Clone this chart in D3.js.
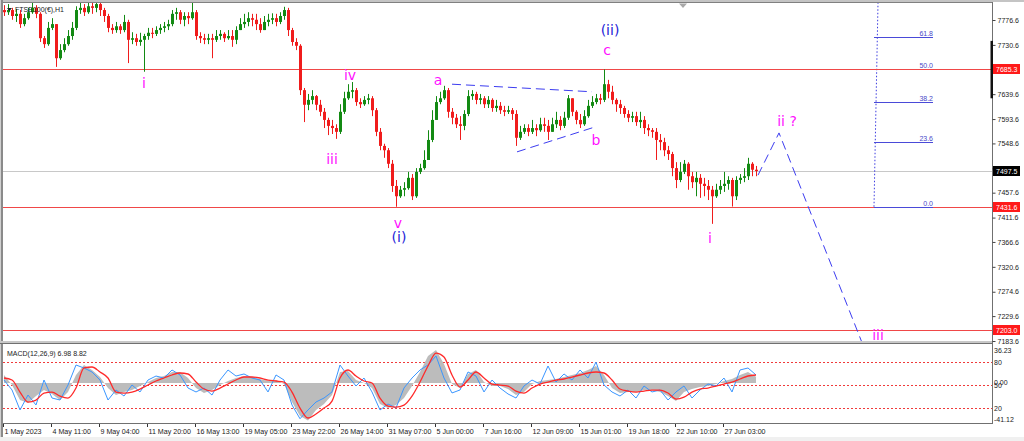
<!DOCTYPE html>
<html><head><meta charset="utf-8">
<script src="https://cdn.jsdelivr.net/npm/d3@7/dist/d3.min.js"></script>
<style>html,body{margin:0;padding:0;background:#fff;overflow:hidden}</style>
</head><body>
<svg id="c" width="1024" height="441"></svg>
<script>
// ---------- DATA ----------
const symbolTitle = "FTSE100(€),H1";
const firstOpen = 7795;
const closes = [
7791,7795,7784,7788,7769,7780,7791,7799,7788,7743,
7732,7762,7769,7706,7721,7732,7747,7762,7795,7799,
7791,7802,7799,7806,7795,7784,7762,7758,7765,7758,
7773,7740,7743,7736,7740,7747,7753,7751,7758,7762,
7765,7769,7788,7791,7777,7784,7780,7791,7747,7743,
7740,7743,7740,7747,7751,7743,7747,7740,7758,7769,
7773,7780,7777,7769,7758,7773,7777,7780,7773,7784,
7795,7758,7736,7729,7647,7620,7629,7636,7620,7607,
7592,7581,7577,7570,7607,7632,7644,7647,7625,7621,
7629,7632,7610,7570,7544,7536,7511,7470,7451,7463,
7466,7485,7451,7496,7503,7518,7555,7592,7625,7632,
7647,7607,7596,7584,7581,7603,7636,7640,7629,7632,
7621,7629,7614,7618,7610,7607,7610,7603,7559,7570,
7577,7570,7577,7573,7584,7581,7570,7584,7592,7581,
7596,7632,7607,7592,7584,7599,7618,7625,7632,7629,
7658,7644,7629,7621,7614,7603,7596,7599,7588,7592,
7577,7573,7570,7555,7551,7536,7529,7503,7481,7496,
7511,7488,7477,7485,7474,7470,7463,7451,7463,7470,
7474,7481,7451,7481,7485,7488,7511,7500,7497.5];
const highs = [
7804,7806,7799,7797,7795,7788,7799,7808,7804,7791,
7747,7773,7780,7769,7732,7743,7758,7773,7802,7808,
7806,7808,7808,7808,7808,7799,7788,7769,7773,7769,
7786,7777,7754,7751,7753,7751,7762,7762,7765,7769,
7773,7777,7795,7799,7795,7791,7791,7808,7795,7754,
7751,7751,7751,7758,7758,7754,7758,7758,7765,7780,
7788,7791,7788,7788,7780,7784,7788,7789,7788,7791,
7801,7799,7762,7743,7732,7651,7640,7647,7638,7629,
7614,7596,7592,7584,7621,7644,7658,7662,7651,7632,
7636,7640,7636,7614,7577,7548,7540,7518,7481,7470,
7477,7496,7492,7503,7511,7536,7573,7610,7636,7644,
7655,7651,7614,7603,7599,7610,7647,7647,7644,7640,
7636,7636,7632,7629,7625,7618,7618,7614,7610,7581,
7584,7584,7592,7584,7596,7596,7592,7596,7607,7599,
7607,7638,7629,7610,7603,7610,7629,7636,7640,7640,
7685.3,7666,7655,7632,7629,7618,7610,7607,7607,7607,
7599,7584,7577,7577,7566,7559,7544,7533,7514,7514,
7518,7514,7496,7496,7492,7485,7481,7470,7474,7481,
7496,7488,7485,7488,7492,7503,7522,7514,7507];
const lows = [
7784,7786,7777,7773,7762,7765,7777,7788,7780,7736,
7725,7729,7758,7690,7703,7717,7729,7740,7758,7788,
7784,7788,7788,7791,7784,7773,7754,7751,7753,7751,
7754,7697,7732,7729,7729,7681,7740,7743,7747,7751,
7754,7758,7765,7777,7769,7765,7769,7777,7740,7734,
7732,7732,7706,7736,7740,7736,7740,7727,7732,7758,
7762,7765,7765,7758,7753,7758,7765,7769,7765,7769,
7777,7747,7729,7721,7638,7588,7610,7621,7610,7599,
7577,7564,7566,7557,7566,7603,7629,7632,7618,7614,
7618,7621,7599,7562,7536,7522,7503,7459,7431.6,7448,
7451,7463,7444,7448,7492,7500,7525,7551,7592,7621,
7629,7596,7584,7577,7555,7573,7599,7629,7621,7621,
7614,7614,7607,7607,7603,7599,7603,7592,7544,7555,
7566,7562,7566,7562,7570,7570,7555,7570,7577,7573,
7577,7592,7599,7584,7577,7581,7596,7614,7621,7621,
7625,7632,7621,7607,7603,7596,7588,7588,7581,7577,
7566,7562,7559,7518,7536,7525,7518,7488,7466,7477,
7492,7463,7466,7451,7448,7451,7444,7400,7448,7455,
7459,7463,7432,7444,7474,7477,7481,7488,7488];

const priceTicks = [7776.6,7730.6,7684.6,7639.6,7593.6,7548.6,7502.6,7457.6,7411.6,7366.6,7320.6,7274.6,7229.6,7183.6];
const timeLabels = ["1 May 2023","4 May 11:00","9 May 04:00","11 May 20:00","16 May 13:00","19 May 05:00","23 May 22:00","26 May 14:00","31 May 07:00","5 Jun 00:00","7 Jun 16:00","12 Jun 09:00","15 Jun 01:00","19 Jun 18:00","22 Jun 10:00","27 Jun 03:00"];
const timeLabelBars = [0,12,24,36,48,60,72,84,96,108,120,132,144,156,168,180];

const redLevels = [7685.3, 7431.6, 7203.0];
const lastPrice = 7497.5;

// Elliott wave labels: bar index, price, text
const waveBars   = [35, 82, 86.5, 98.5, 98.75, 108.5, 148, 150.75, 151.5, 176.5, 195.75, 218.5];
const wavePrices = [7651, 7511, 7666, 7393, 7366, 7657, 7546, 7712, 7749, 7364, 7581, 7186];
const waveTexts  = ["i","iii","iv","v","(i)","a","b","c","(ii)","i","ii ?","iii"];
const waveBlue   = [false,false,false,false,true,false,false,false,true,false,false,false];

// dashed trend / projection lines
const triUpperBars = [112, 147],   triUpperPrices = [7658, 7644];
const triLowerBars = [128.25, 147.75], triLowerPrices = [7533, 7579];
const projBars = [188.5, 193.75, 214.75], projPrices = [7490, 7568, 7176];

// Fibonacci retracement
const fibBars = [217.5, 218.85], fibPrices = [7431.6, 7939.0];
const fibLevels = [0, 23.6, 38.2, 50, 61.8];
const fibLabelEndBar = 232.25;

// MACD panel (one value every 2 bars)
const macdMain = [
8.8,-2.2,-18.7,-22.0,-14.3,-7.7,-12.1,-18.7,-9.9,8.8,
19.8,14.3,6.6,-5.5,-13.2,-9.9,-7.7,-3.3,1.1,5.5,
7.7,12.1,12.1,5.5,-5.5,-11.0,-7.7,-2.2,2.2,5.5,
7.7,6.6,4.4,2.2,3.3,-1.1,-20.9,-36.2,-41.12,-29.6,
-23.1,-13.2,12.1,13.2,3.3,0,-5.5,-23.1,-27.5,-24.2,
-16.5,-3.3,12.1,29.6,36.23,20.9,-1.1,-5.5,9.9,14.3,
1.1,-3.3,-3.3,-6.6,-13.2,-9.9,-1.1,2.2,3.3,4.4,
6.6,8.8,11.0,14.3,18.7,8.8,-5.5,-11.0,-9.9,-9.9,
-7.7,-7.7,-9.9,-14.3,-19.8,-9.9,-6.6,-4.4,-3.3,-1.1,
2.2,4.4,8.8,12.1,6.98];
const macdSignal = [
5.5,3.3,-9.9,-20.9,-18.7,-11.0,-9.9,-14.3,-16.5,-5.5,
16.5,17.6,12.1,5.5,-9.9,-11.0,-9.9,-6.6,-2.2,2.2,
5.5,8.8,11.0,9.9,1.1,-6.6,-8.8,-5.5,-1.1,3.3,
6.6,6.6,5.5,3.3,2.2,1.1,-9.9,-27.5,-38.4,-34.0,
-27.5,-19.8,5.5,14.3,7.7,2.2,0,-16.5,-25.3,-26.4,
-24.2,-14.3,1.1,18.7,32.9,28.5,8.8,-4.4,3.3,12.1,
5.5,-1.1,-2.2,-3.3,-8.8,-11.0,-5.5,-1.1,1.1,3.3,
4.4,6.6,8.8,11.0,12.1,11.0,3.3,-6.6,-8.8,-9.9,
-8.8,-7.7,-7.7,-11.0,-17.6,-15.4,-9.9,-6.6,-5.5,-3.3,
-1.1,1.1,4.4,7.7,8.82];
const oscValues = [
56.5,43.5,17.4,36.9,23.9,56.5,33.0,30.4,50.0,76.1,
72.2,67.0,56.5,30.4,43.5,35.6,50.0,40.9,56.5,61.7,
59.1,69.6,63.1,46.1,40.9,46.1,36.9,56.5,69.6,61.7,
64.4,59.1,56.5,40.9,63.1,56.5,23.9,6.0,17.4,27.8,
33.0,40.9,76.1,61.7,48.7,59.1,40.9,17.4,25.2,20.0,
46.1,59.1,69.6,76.1,87.9,59.1,39.6,43.5,67.0,61.7,
40.9,56.5,46.1,38.3,33.0,48.7,56.5,51.3,74.8,53.9,
64.4,56.5,69.6,59.1,80.0,50.0,40.9,35.6,43.5,33.0,
48.7,40.9,43.5,30.4,40.9,48.7,33.0,43.5,51.3,48.7,
59.1,40.9,69.6,72.2,63.1];
const oscLevels = [80, 50, 20];
const macdTitle = "MACD(12,26,9) 6.98 8.82";

// ---------- DRAW ----------
const svg = d3.select('#c');
const P = {l:3, r:992, t:3, b:341};
const S = {t:344, b:423};
const x  = d3.scaleLinear().domain([0,247]).range([4,992]);
const y  = d3.scaleLinear().domain([7183.6,7776.6]).range([341,20]);
const ym = d3.scaleLinear().domain([-41.12,36.23]).range([420.5,350]);
const yo = d3.scaleLinear().domain([0,100]).range([423.3,346.7]);
const crisp = v => Math.round(v)+0.5;
const FONT = 'Liberation Sans, Arial, sans-serif';

const defs = svg.append('defs');
defs.append('clipPath').attr('id','cm').append('rect').attr('x',P.l).attr('y',P.t).attr('width',P.r-P.l).attr('height',P.b-P.t);
defs.append('clipPath').attr('id','cs').append('rect').attr('x',P.l).attr('y',S.t).attr('width',P.r-P.l).attr('height',S.b-S.t);

svg.append('rect').attr('width',1024).attr('height',441).attr('fill','#fff');

const main = svg.append('g').attr('clip-path','url(#cm)');

// horizontal lines
main.append('line').attr('x1',P.l).attr('x2',P.r).attr('y1',crisp(y(lastPrice))).attr('y2',crisp(y(lastPrice))).attr('stroke','#c8c8c8');
main.append('line').attr('x1',P.l).attr('x2',P.r).attr('y1',crisp(y(redLevels[1]))).attr('y2',crisp(y(redLevels[1]))).attr('stroke','#f04848');
main.append('line').attr('x1',P.l).attr('x2',P.r).attr('y1',crisp(y(redLevels[2]))).attr('y2',crisp(y(redLevels[2]))).attr('stroke','#f04848');

// fib
const fibLine = d3.line().x(d=>x(d[0])).y(d=>y(d[1]));
main.append('path').attr('d',fibLine(fibBars.map((b,i)=>[b,fibPrices[i]]))).attr('stroke','#3b3be0').attr('stroke-dasharray','1.5,2').attr('fill','none');
const fibP = l => fibPrices[0] + (fibPrices[1]-fibPrices[0])*l/100;
fibLevels.forEach(l=>{
  const yy = crisp(y(fibP(l)));
  main.append('line').attr('x1',x(fibBars[0])).attr('x2',x(fibLabelEndBar)).attr('y1',yy).attr('y2',yy).attr('stroke','#4a4ad8');
  main.append('text').attr('x',x(fibLabelEndBar)).attr('y',yy-2).attr('text-anchor','end')
    .attr('font-family',FONT).attr('font-size','7px').attr('fill','#4848c8').text(l.toFixed(1));
});
main.append('line').attr('x1',P.l).attr('x2',P.r).attr('y1',crisp(y(redLevels[0]))).attr('y2',crisp(y(redLevels[0]))).attr('stroke','#f04848');

// candles
const candles = closes.map((c,i)=>({i, o: i ? closes[i-1] : firstOpen, c, h: highs[i], l: lows[i]}));
const bull = '#138a13', bear = '#f01c1c';
main.selectAll('line.wick').data(candles).join('line').attr('class','wick')
  .attr('x1',d=>x(d.i)+0.5).attr('x2',d=>x(d.i)+0.5)
  .attr('y1',d=>y(Math.max(d.h,d.o,d.c))).attr('y2',d=>y(Math.min(d.l,d.o,d.c)))
  .attr('stroke',d=>d.c>=d.o?bull:bear).attr('stroke-width',1);
main.selectAll('rect.body').data(candles).join('rect').attr('class','body')
  .attr('x',d=>x(d.i)-1).attr('width',3)
  .attr('y',d=>y(Math.max(d.o,d.c)))
  .attr('height',d=>Math.max(1,Math.abs(y(d.o)-y(d.c))))
  .attr('fill',d=>d.c>=d.o?bull:bear);

// dashed lines
const dl = d3.line().x(d=>x(d[0])).y(d=>y(d[1]));
const dashStyle = s => s.attr('fill','none').attr('stroke','#3c3cf0').attr('stroke-width',1).attr('stroke-dasharray','9,5');
dashStyle(main.append('path').attr('d',dl(triUpperBars.map((b,i)=>[b,triUpperPrices[i]]))));
dashStyle(main.append('path').attr('d',dl(triLowerBars.map((b,i)=>[b,triLowerPrices[i]]))));
dashStyle(main.append('path').attr('d',dl(projBars.map((b,i)=>[b,projPrices[i]]))));

// wave labels
waveTexts.forEach((t,k)=>{
  main.append('text').attr('x',x(waveBars[k])).attr('y',y(wavePrices[k]))
    .attr('text-anchor','middle').attr('font-family','DejaVu Sans, Verdana, sans-serif')
    .attr('font-size','14px').attr('fill',waveBlue[k]?'#2424d8':'#ff10ff').text(t);
});

// title
svg.append('path').attr('d','M7,8 L12,8 L9.5,11 Z').attr('fill','#222');
svg.append('text').attr('x',15).attr('y',12).attr('font-family',FONT).attr('font-size','7px').attr('fill','#222').text(symbolTitle);

// shift marker
svg.append('path').attr('d','M679,3.5 L687,3.5 L683,8 Z').attr('fill','#a8a8a8');

// ---------- MACD panel ----------
const sub = svg.append('g').attr('clip-path','url(#cs)');
oscLevels.forEach(v=>{
  sub.append('line').attr('x1',P.l).attr('x2',P.r).attr('y1',crisp(yo(v))).attr('y2',crisp(yo(v)))
    .attr('stroke','#f03a3a').attr('stroke-dasharray','2,2');
});
const mx = (d,j)=>x(2*j);
sub.append('path').datum(macdMain).attr('d',d3.area().x(mx).y0(ym(0)).y1(d=>ym(d)))
  .attr('fill','#bcbcbc');
sub.append('path').datum(oscValues).attr('d',d3.line().x(mx).y(d=>yo(d)))
  .attr('fill','none').attr('stroke','#3a96ff').attr('stroke-width',1);
sub.append('path').datum(macdSignal).attr('d',d3.line().x(mx).y(d=>ym(d)).curve(d3.curveMonotoneX))
  .attr('fill','none').attr('stroke','#ff2a2a').attr('stroke-width',1.3);
svg.append('text').attr('x',7).attr('y',356).attr('font-family',FONT).attr('font-size','7px').attr('fill','#222').text(macdTitle);

// ---------- frames ----------
svg.append('rect').attr('x',0).attr('y',0).attr('width',1024).attr('height',2).attr('fill','#c4c4c4');
svg.append('line').attr('x1',0).attr('x2',P.r).attr('y1',2.5).attr('y2',2.5).attr('stroke','#808080');
svg.append('rect').attr('x',0).attr('y',0).attr('width',1).attr('height',441).attr('fill','#d0d0d0');
svg.append('rect').attr('x',1).attr('y',0).attr('width',2).attr('height',441).attr('fill','#8a8a8a');
svg.append('rect').attr('x',0).attr('y',341).attr('width',P.r).attr('height',2).attr('fill','#c8c8c8');
svg.append('line').attr('x1',0).attr('x2',P.r).attr('y1',343.5).attr('y2',343.5).attr('stroke','#707070');
svg.append('line').attr('x1',P.l).attr('x2',P.r).attr('y1',423.5).attr('y2',423.5).attr('stroke','#707070');
svg.append('line').attr('x1',P.r+0.5).attr('x2',P.r+0.5).attr('y1',2).attr('y2',424).attr('stroke','#707070');
svg.append('rect').attr('x',0).attr('y',437).attr('width',1024).attr('height',4).attr('fill','#f0f0f0');

// right price axis
const ax = svg.append('g').attr('transform',`translate(${P.r+0.5},0)`);
ax.call(d3.axisRight(y).tickValues(priceTicks).tickSize(3).tickPadding(2).tickFormat(d3.format('.1f')));
ax.select('.domain').remove();
ax.selectAll('text').attr('font-family',FONT).attr('font-size','7px').attr('fill','#222');
ax.selectAll('line').attr('stroke','#444');

// black scroll marker on axis
const markerPrices = [7632, 7738];
svg.append('rect').attr('x',990.5).attr('width',2.5).attr('y',y(markerPrices[1])).attr('height',y(markerPrices[0])-y(markerPrices[1])).attr('fill','#111');

// price labels
function priceTag(p, bg){
  const yy = y(p);
  svg.append('rect').attr('x',P.r+1).attr('y',Math.round(yy)-5).attr('width',27).attr('height',10).attr('fill',bg);
  svg.append('text').attr('x',P.r+4).attr('y',Math.round(yy)+3).attr('font-family',FONT)
    .attr('font-size','7px').attr('fill','#fff').text(p.toFixed(1));
}
priceTag(redLevels[0],'#ff1a1a');
priceTag(redLevels[1],'#ff1a1a');
priceTag(redLevels[2],'#ff1a1a');
priceTag(lastPrice,'#000');

// MACD axis labels
const subLabel = (txt,yy)=>svg.append('text').attr('x',P.r+2).attr('y',yy).attr('font-family',FONT).attr('font-size','7px').attr('fill','#222').text(txt);
subLabel('36.23', ym(36.23)+3);
oscLevels.forEach(v=>subLabel(String(v), yo(v)+3));
subLabel('0.00', ym(0)+2);
subLabel('-41.12', ym(-41.12)+1);

// time axis
const tg = svg.append('g');
timeLabelBars.forEach((b,k)=>{
  const xx = Math.round(x(b))-0.5;
  tg.append('line').attr('x1',xx).attr('x2',xx).attr('y1',424).attr('y2',427).attr('stroke','#333');
  tg.append('text').attr('x',xx+1).attr('y',434).attr('font-family',FONT).attr('font-size','7.1px').attr('fill','#222').text(timeLabels[k]);
});
</script>
</body></html>
